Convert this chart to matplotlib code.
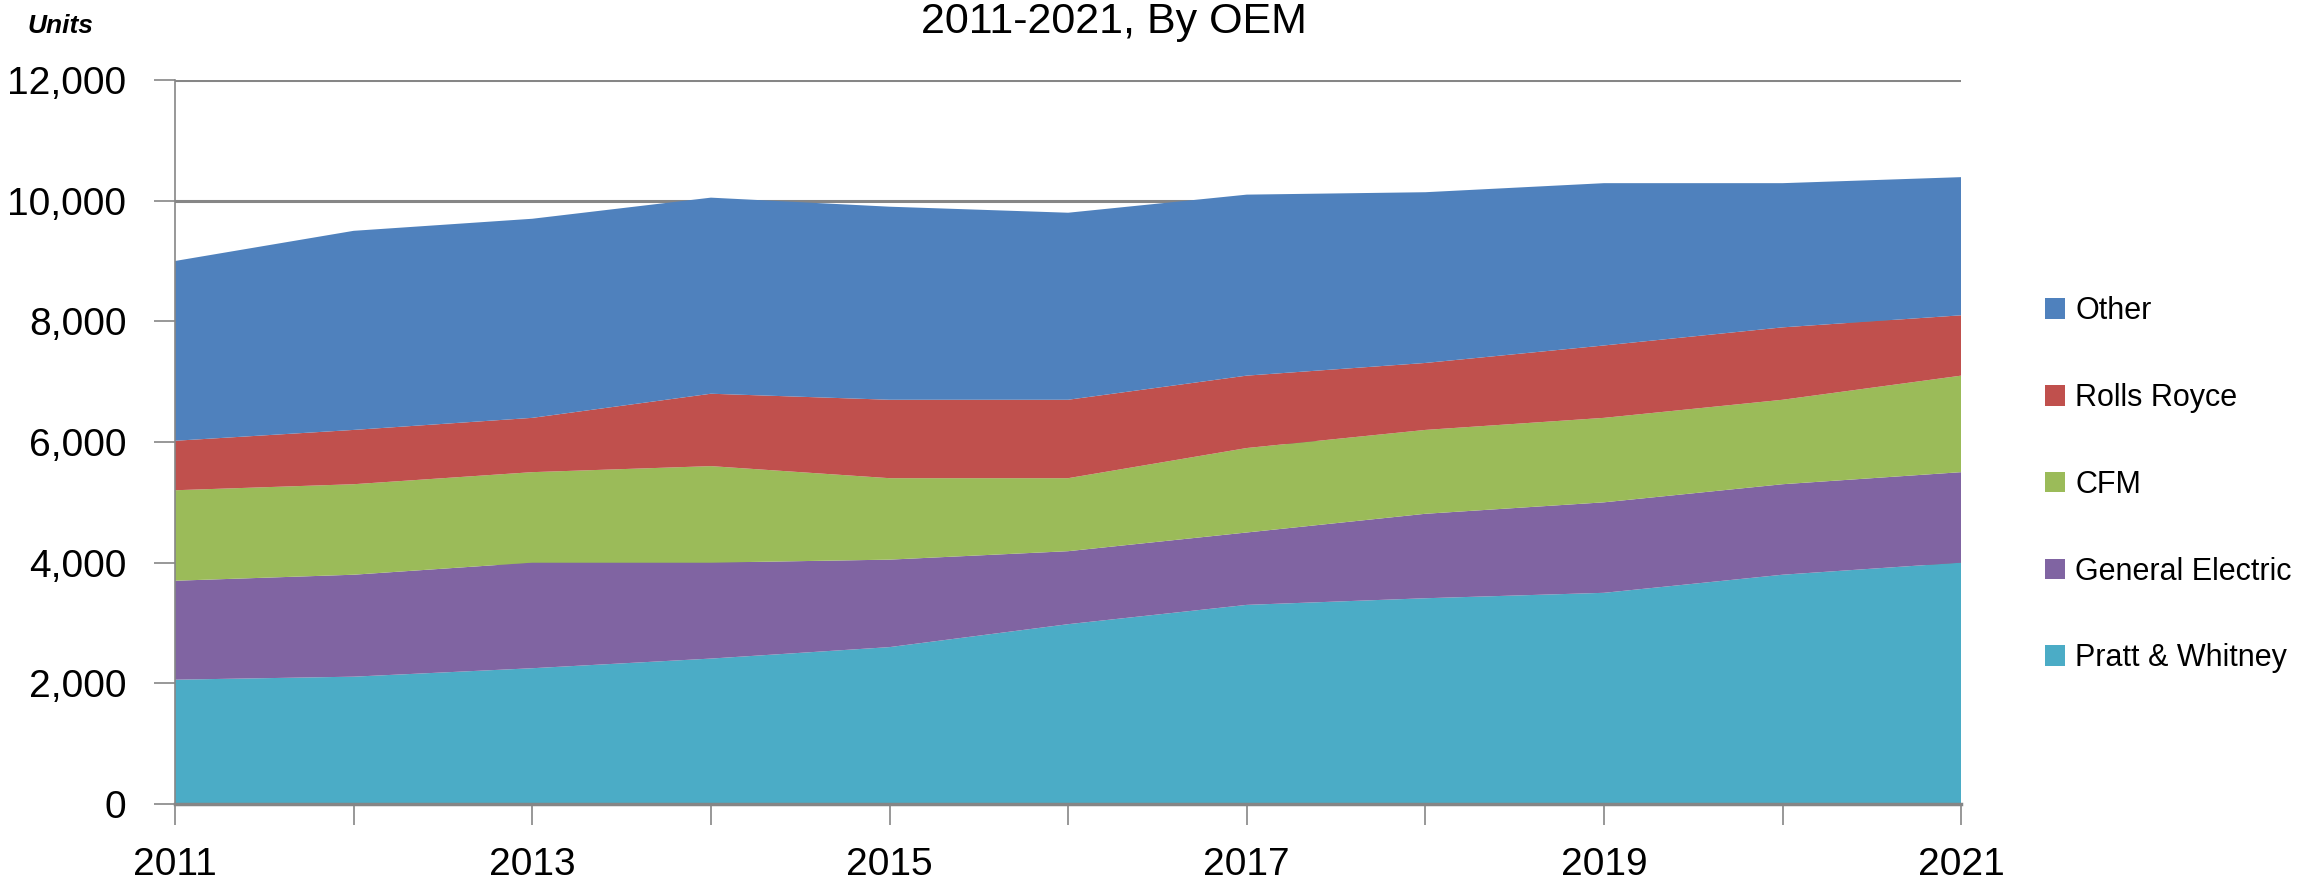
import numpy as np
import matplotlib
matplotlib.use('Agg')
import matplotlib.pyplot as plt
from matplotlib.ticker import FuncFormatter

plt.rcParams['font.family'] = ['Liberation Sans', 'DejaVu Sans']

# engine units by OEM
years = [2011, 2012, 2013, 2014, 2015, 2016, 2017, 2018, 2019, 2020, 2021]
pratt = [2060, 2110, 2250, 2410, 2600, 2980, 3300, 3410, 3500, 3800, 4000]
ge = [1640, 1690, 1750, 1590, 1450, 1210, 1200, 1400, 1500, 1500, 1500]
cfm = [1500, 1500, 1500, 1600, 1350, 1210, 1400, 1390, 1400, 1400, 1600]
rolls = [820, 900, 900, 1200, 1300, 1300, 1200, 1110, 1200, 1200, 1000]
other = [2980, 3300, 3300, 3250, 3200, 3100, 3000, 2830, 2690, 2390, 2290]

labels = ['Pratt & Whitney', 'General Electric', 'CFM', 'Rolls Royce', 'Other']
colors = ['#4BACC6', '#8064A2', '#9BBB59', '#C0504D', '#4F81BD']
year_labels = [str(y) if y % 2 == 1 else '' for y in years]

fig = plt.figure(figsize=(23.21, 8.83), dpi=100)
ax = fig.add_axes([0.0754, 0.0895, 0.7696, 0.8199])

grey = '#868686'

ax.stackplot(years, pratt, ge, cfm, rolls, other, colors=colors,
             labels=labels, linewidth=0, zorder=2)

ax.set_xlim(2011, 2021)
ax.set_ylim(0, 12000)
ax.set_yticks(np.arange(0, 12001, 2000))
ax.yaxis.set_major_formatter(FuncFormatter(lambda v, p: '{:,.0f}'.format(v)))
ax.set_xticks(years)
ax.set_xticklabels(year_labels)

ax.grid(axis='y', color=grey, linewidth=2.2, zorder=1)
ax.set_axisbelow(True)
for s in ['top', 'right']:
  ax.spines[s].set_visible(False)
ax.spines['left'].set_color(grey)
ax.spines['left'].set_linewidth(1.2)
ax.spines['bottom'].set_color(grey)
ax.spines['bottom'].set_linewidth(2.5)
ax.spines['bottom'].set_zorder(3)

ax.tick_params(axis='both', direction='out', color=grey, width=1.2, length=15,
               labelsize=28)
ax.tick_params(axis='y', pad=20)
ax.tick_params(axis='x', pad=16)

# title is cut off at the top of the image
fig.text(0.48, 0.9626, '2011-2021, By OEM', ha='center', va='baseline', fontsize=31)
fig.text(0.012, 0.9626, 'Units', ha='left', va='baseline', fontsize=19,
         style='italic', fontweight='bold')

h, l = ax.get_legend_handles_labels()
ax.legend(h[::-1], l[::-1], loc='center left', bbox_to_anchor=(0.881, 0.451),
          bbox_transform=fig.transFigure, frameon=False, fontsize=22,
          handlelength=0.66, handleheight=0.66, handletextpad=0.33,
          labelspacing=1.86, borderpad=0, borderaxespad=0)

fig.savefig('out.png', dpi=100)
